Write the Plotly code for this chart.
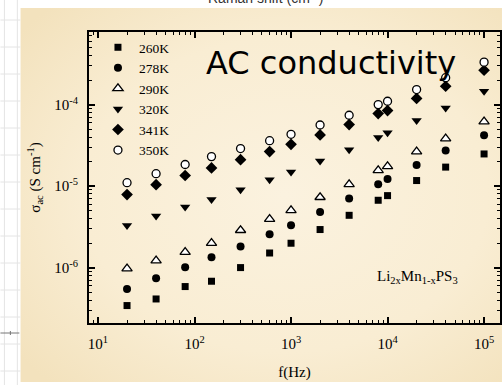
import base64
import plotly.graph_objects as go

# ---------------- data ----------------
freq_hz = [20, 40, 80, 150, 300, 600, 1000, 2000, 4000, 8000, 10000, 20000, 40000, 100000]

temps = ["260K", "278K", "290K", "320K", "341K", "350K"]

sigma_260K = [3.42e-7, 4.12e-7, 5.85e-7, 6.8e-7, 1.0e-6, 1.51e-6, 1.99e-6, 2.93e-6, 4.38e-6, 6.7e-6, 7.64e-6, 1.17e-5, 1.71e-5, 2.48e-5]
sigma_278K = [5.46e-7, 7.39e-7, 1.01e-6, 1.34e-6, 1.81e-6, 2.56e-6, 3.31e-6, 4.81e-6, 7.03e-6, 1.05e-5, 1.22e-5, 1.82e-5, 2.73e-5, 4.2e-5]
sigma_290K = [9.7e-7, 1.22e-6, 1.55e-6, 2.0e-6, 2.87e-6, 3.94e-6, 5.05e-6, 7.3e-6, 1.05e-5, 1.56e-5, 1.75e-5, 2.65e-5, 3.83e-5, 6.18e-5]
sigma_320K = [3.28e-6, 4.3e-6, 5.54e-6, 6.83e-6, 9.0e-6, 1.2e-5, 1.49e-5, 2.03e-5, 2.8e-5, 3.95e-5, 4.53e-5, 6.37e-5, 9.1e-5, 1.46e-4]
sigma_341K = [7.87e-6, 1.04e-5, 1.35e-5, 1.67e-5, 2.11e-5, 2.65e-5, 3.26e-5, 4.24e-5, 5.69e-5, 7.76e-5, 8.44e-5, 1.19e-4, 1.68e-4, 2.64e-4]
sigma_350K = [1.1e-5, 1.42e-5, 1.84e-5, 2.3e-5, 2.89e-5, 3.61e-5, 4.32e-5, 5.62e-5, 7.4e-5, 1.0e-4, 1.1e-4, 1.53e-4, 2.14e-4, 3.32e-4]

x_tick_vals = [1e1, 1e2, 1e3, 1e4, 1e5]
x_tick_text = ["10<sup>1</sup>", "10<sup>2</sup>", "10<sup>3</sup>", "10<sup>4</sup>", "10<sup>5</sup>"]
y_tick_vals = [1e-6, 1e-5, 1e-4]
y_tick_text = ["10<sup>-6</sup>", "10<sup>-5</sup>", "10<sup>-4</sup>"]

series = [sigma_260K, sigma_278K, sigma_290K, sigma_320K, sigma_341K, sigma_350K]

# ---------------- styles ----------------
styles = [
    dict(symbol="square", size=7, color="black", line=dict(width=0)),
    dict(symbol="circle", size=8, color="black", line=dict(width=0)),
    dict(symbol="triangle-up", size=9, color="white", line=dict(width=1.3, color="black")),
    dict(symbol="triangle-down", size=9, color="black", line=dict(width=0)),
    dict(symbol="diamond", size=9, color="black", line=dict(width=0)),
    dict(symbol="circle", size=8, color="white", line=dict(width=1.3, color="black")),
]

SERIF = "Liberation Serif, Times New Roman, serif"

fig = go.Figure()
for name, vals, st in zip(temps, series, styles):
    fig.add_trace(go.Scatter(x=freq_hz, y=vals, mode="markers", name=name, marker=st))

# plot-area pixel geometry (for helpers)
W, H = 504, 385
L, R, T, B = 89, 2, 32, 62
pw, ph = W - L - R, H - T - B

def px(x):
    return (x - L) / pw

def py(y):
    return (H - B - y) / ph

minor_x = [d * 10 ** e for e in range(0, 6) for d in range(2, 10)]
minor_y = [d * 10 ** e for e in range(-7, -2) for d in range(2, 10)]

axis_common = dict(
    showline=True, linewidth=2, linecolor="black", mirror="allticks",
    ticks="inside", ticklen=6, tickwidth=1.5, tickcolor="black",
    showgrid=False, zeroline=False,
    tickfont=dict(family=SERIF, size=15, color="black"),
)

fig.update_xaxes(
    type="log", range=[0.907, 5.165],
    tickmode="array", tickvals=x_tick_vals, ticktext=x_tick_text,
    minor=dict(tickmode="array", tickvals=minor_x, ticks="inside", ticklen=3, tickwidth=1.2, tickcolor="black", showgrid=False),
    title=dict(text="f(Hz)", font=dict(family=SERIF, size=15, color="black"), standoff=15),
    ticklabelstandoff=6,
    **axis_common,
)
fig.update_yaxes(
    type="log", range=[-6.68, -3.109],
    tickmode="array", tickvals=y_tick_vals, ticktext=y_tick_text,
    minor=dict(tickmode="array", tickvals=minor_y, ticks="inside", ticklen=3, tickwidth=1.2, tickcolor="black", showgrid=False),
    title=dict(text="σ<sub>ac</sub> (S cm<sup>-1</sup>)", font=dict(family=SERIF, size=15, color="black"), standoff=10),
    ticklabelstandoff=6,
    **axis_common,
)

# slide background: soft beige gradient (inline SVG, no network)
svg = (
    '<svg xmlns="http://www.w3.org/2000/svg" width="484" height="374">'
    '<defs><radialGradient id="g" cx="55%" cy="50%" r="70%">'
    '<stop offset="0%" stop-color="#FBF2DF"/>'
    '<stop offset="60%" stop-color="#F9EDD3"/>'
    '<stop offset="100%" stop-color="#F3E2BD"/>'
    '</radialGradient></defs>'
    '<rect width="484" height="374" fill="url(#g)"/></svg>'
)
bg_src = "data:image/svg+xml;base64," + base64.b64encode(svg.encode()).decode()

images = [dict(source=bg_src, xref="paper", yref="paper",
               x=px(20), y=py(8), sizex=px(504) - px(20), sizey=py(8) - py(382),
               xanchor="left", yanchor="top", sizing="stretch", layer="below")]

shapes = []
# light graph-paper grid on the left white strip
for gy in [20, 47, 74, 101, 128, 155, 182, 209, 236, 263, 290, 317, 344, 371]:
    shapes.append(dict(type="line", xref="paper", yref="paper", layer="below",
                       x0=px(0), x1=px(20), y0=py(gy), y1=py(gy),
                       line=dict(color="#E4E4E4", width=1)))
for gx in [4, 17]:
    shapes.append(dict(type="line", xref="paper", yref="paper", layer="below",
                       x0=px(gx), x1=px(gx), y0=py(385), y1=py(0),
                       line=dict(color="#E4E4E4", width=1)))
shapes.append(dict(type="line", xref="paper", yref="paper", layer="below",
                   x0=px(0), x1=px(19), y0=py(333), y1=py(333),
                   line=dict(color="#777777", width=1)))
shapes.append(dict(type="line", xref="paper", yref="paper", layer="below",
                   x0=px(10), x1=px(10), y0=py(331), y1=py(335),
                   line=dict(color="#777777", width=1)))

annotations = [
    dict(text="AC conductivity", xref="paper", yref="paper", x=px(332), y=py(63),
         xanchor="center", yanchor="middle", showarrow=False,
         font=dict(family="DejaVu Sans, sans-serif", size=32, color="black")),
    dict(text="Li<sub>2x</sub>Mn<sub>1-x</sub>PS<sub>3</sub>", xref="paper", yref="paper",
         x=px(419), y=py(277), xanchor="center", yanchor="middle", showarrow=False,
         font=dict(family=SERIF, size=15, color="black")),
    dict(text="Raman shift (cm<sup>-1</sup>)", xref="paper", yref="paper",
         x=px(266), y=py(8), xanchor="center", yanchor="bottom", showarrow=False,
         font=dict(family="Liberation Sans, Arial, sans-serif", size=14, color="#333333")),
]

fig.update_layout(
    width=W, height=H,
    margin=dict(l=L, r=R, t=T, b=B, pad=0),
    paper_bgcolor="white", plot_bgcolor="rgba(0,0,0,0)",
    shapes=shapes, annotations=annotations, images=images,
    showlegend=True,
    legend=dict(x=px(97), y=py(32), xanchor="left", yanchor="top",
                bgcolor="rgba(0,0,0,0)", borderwidth=0,
                font=dict(family=SERIF, size=13.5, color="black"),
                itemwidth=32, tracegroupgap=0),
)

fig.write_html("out.html")
